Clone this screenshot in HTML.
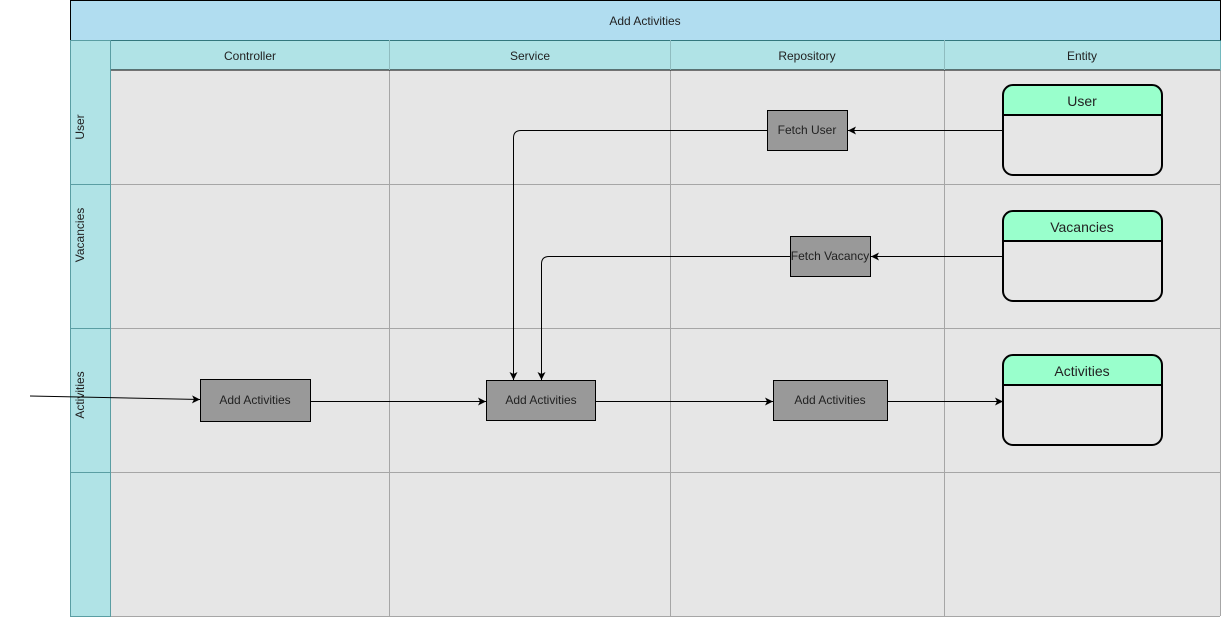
<!DOCTYPE html>
<html><head><meta charset="utf-8"><style>
html,body{margin:0;padding:0;background:#fff;}
svg{display:block;font-family:"Liberation Sans",sans-serif;}
</style></head><body>
<svg width="1221" height="617" viewBox="0 0 1221 617" xmlns="http://www.w3.org/2000/svg">
<defs><marker id="a" markerWidth="10" markerHeight="10" refX="9" refY="5" orient="auto" markerUnits="userSpaceOnUse"><path d="M1,1 L9,5 L1,9 L3,5 Z" fill="#000"/></marker></defs>
<rect x="110" y="70" width="1110" height="546" fill="#e6e6e6"/>
<g stroke="#a6a6a6" stroke-width="1">
<line x1="389.5" y1="40" x2="389.5" y2="616"/><line x1="670.5" y1="40" x2="670.5" y2="616"/><line x1="944.5" y1="40" x2="944.5" y2="616"/>
<line x1="70" y1="184.5" x2="1220" y2="184.5"/><line x1="70" y1="328.5" x2="1220" y2="328.5"/><line x1="70" y1="472.5" x2="1220" y2="472.5"/>
<line x1="70" y1="616.5" x2="1220" y2="616.5"/><line x1="1220.5" y1="70" x2="1220.5" y2="616"/>
</g>
<rect x="70.5" y="0.5" width="1150" height="40" fill="#b1ddf0" stroke="#000"/>
<text x="645" y="25" font-size="12" text-anchor="middle" fill="#222">Add Activities</text>
<rect x="110.5" y="40.5" width="1110" height="29.5" fill="#b0e3e6" stroke="#0e8088" stroke-opacity="0.5"/>
<line x1="110" y1="70" x2="1220" y2="70" stroke="#000"/>
<g stroke="#8fbcbf"><line x1="389.5" y1="40" x2="389.5" y2="70"/><line x1="670.5" y1="40" x2="670.5" y2="70"/><line x1="944.5" y1="40" x2="944.5" y2="70"/></g>
<g font-size="12" text-anchor="middle" fill="#222">
<text x="250" y="60">Controller</text><text x="530" y="60">Service</text><text x="807" y="60">Repository</text><text x="1082" y="60">Entity</text>
</g>
<rect x="70.5" y="40.5" width="40" height="576" fill="#b0e3e6" stroke="#5a9ea3"/>
<g stroke="#5a9ea3"><line x1="70" y1="184.5" x2="110" y2="184.5"/><line x1="70" y1="328.5" x2="110" y2="328.5"/><line x1="70" y1="472.5" x2="110" y2="472.5"/></g>
<g font-size="12" text-anchor="middle" fill="#222">
<text transform="translate(84,127) rotate(-90)">User</text>
<text transform="translate(84,235) rotate(-90)">Vacancies</text>
<text transform="translate(84,395) rotate(-90)">Activities</text>
</g>
<g stroke="#000" stroke-width="2">
<path d="M1003,115 V95 a10,10 0 0 1 10,-10 H1152 a10,10 0 0 1 10,10 V115 Z" fill="#99ffcc"/>
<path d="M1003,115 H1162 V165 a10,10 0 0 1 -10,10 H1013 a10,10 0 0 1 -10,-10 Z" fill="#e6e6e6"/>
<path d="M1003,241 V221 a10,10 0 0 1 10,-10 H1152 a10,10 0 0 1 10,10 V241 Z" fill="#99ffcc"/>
<path d="M1003,241 H1162 V291 a10,10 0 0 1 -10,10 H1013 a10,10 0 0 1 -10,-10 Z" fill="#e6e6e6"/>
<path d="M1003,385 V365 a10,10 0 0 1 10,-10 H1152 a10,10 0 0 1 10,10 V385 Z" fill="#99ffcc"/>
<path d="M1003,385 H1162 V435 a10,10 0 0 1 -10,10 H1013 a10,10 0 0 1 -10,-10 Z" fill="#e6e6e6"/>
</g>
<g font-size="14" text-anchor="middle" fill="#222">
<text x="1082" y="106">User</text><text x="1082" y="232">Vacancies</text><text x="1082" y="376">Activities</text>
</g>
<g fill="#999" stroke="#000" stroke-width="1">
<rect x="767.5" y="110.5" width="80" height="40"/>
<rect x="790.5" y="236.5" width="80" height="40"/>
<rect x="200.5" y="379.5" width="110" height="42"/>
<rect x="486.5" y="380.5" width="109" height="40"/>
<rect x="773.5" y="380.5" width="114" height="40"/>
</g>
<g font-size="12" text-anchor="middle" fill="#222">
<text x="807" y="134">Fetch User</text><text x="830" y="260">Fetch Vacancy</text>
<text x="255" y="404">Add Activities</text><text x="541" y="404">Add Activities</text><text x="830" y="404">Add Activities</text>
</g>
<g stroke="#000" stroke-width="1" fill="none" marker-end="url(#a)">
<line x1="1003" y1="130.5" x2="848" y2="130.5"/>
<line x1="1003" y1="256.5" x2="871" y2="256.5"/>
<path d="M767,130.5 H521 Q513.5,130.5 513.5,138 V380"/>
<path d="M790,256.5 H549 Q541.5,256.5 541.5,264 V380"/>
<line x1="30" y1="396" x2="200" y2="399.5"/>
<line x1="311" y1="401.5" x2="486" y2="401.5"/>
<line x1="596" y1="401.5" x2="773" y2="401.5"/>
<line x1="888" y1="401.5" x2="1003" y2="401.5"/>
</g>
</svg>
</body></html>
